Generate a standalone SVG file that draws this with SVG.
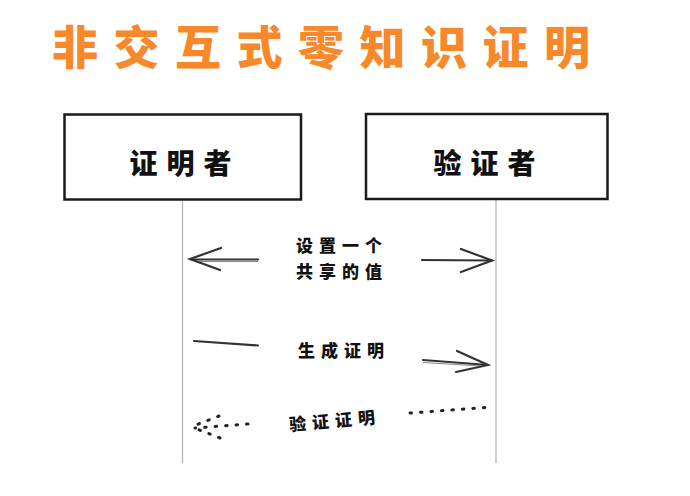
<svg xmlns="http://www.w3.org/2000/svg" width="690" height="496" viewBox="0 0 690 496">
<style>
.title{font-family:"Noto Sans CJK SC","Noto Sans",sans-serif;font-weight:900;font-size:46px;fill:#F7892B;letter-spacing:15.5px}
.box{fill:#fff;stroke:#1a1a1a;stroke-width:2.5}
.nt{font-family:"Noto Sans CJK SC","Noto Sans",sans-serif;font-weight:900;font-size:28px;fill:#111;letter-spacing:9px;text-anchor:middle}
.lt{font-family:"Noto Sans CJK SC","Noto Sans",sans-serif;font-weight:900;font-size:17px;fill:#111;letter-spacing:6px;text-anchor:middle}
.life{stroke:#b5b5b5;stroke-width:1.3}
.ln{stroke:#333;stroke-width:2.2;fill:none;stroke-linecap:round}
.ln2{stroke:#888;stroke-width:1;fill:none}
.dot{stroke:#222;stroke-width:3;fill:none;stroke-linecap:round;stroke-dasharray:1.5 9}
</style>
<rect width="690" height="496" fill="#fff"/>
<text class="title" x="52" y="64">非交互式零知识证明</text>
<g id="lifelines">
<line class="life" x1="182.5" y1="200" x2="182.5" y2="463"/>
<line class="life" x1="496" y1="199" x2="496" y2="463"/>
</g>
<g id="prover">
<rect class="box" x="64.5" y="114.5" width="236.5" height="85"/>
<text class="nt" x="185" y="174">证明者</text>
</g>
<g id="verifier">
<rect class="box" x="366" y="114" width="241.5" height="85"/>
<text class="nt" x="489" y="174">验证者</text>
</g>
<g id="connectors">
<path class="ln" d="M258 259.5 L191 259.5"/>
<path class="ln2" d="M258 261.5 L195 261.5"/>
<path class="ln" d="M221 248 L190 259 L220 270"/>
<path class="ln" d="M422 260 L492 260.5"/>
<path class="ln" d="M461 249 L492 260.5 L461 272"/>
<path class="ln" d="M194 341 L258 345.5"/>
<path class="ln" d="M423 360 L488 365"/>
<path class="ln2" d="M423 362.5 L480 366"/>
<path class="ln" d="M457 351 L488 365 L456 372"/>
<path class="dot" d="M410 413 L486 407.5"/>
<path class="dot" d="M248 424 L195 428"/>
<path class="dot" d="M219 416 L196 425 M220 438 L197 429"/>
</g>
<g id="labels">
<text class="lt" x="342" y="252">设置一个</text>
<text class="lt" x="342" y="278">共享的值</text>
<text class="lt" x="344" y="357">生成证明</text>
<text class="lt" x="335" y="427" transform="rotate(-5 335 421)">验证证明</text>
</g>
</svg>
